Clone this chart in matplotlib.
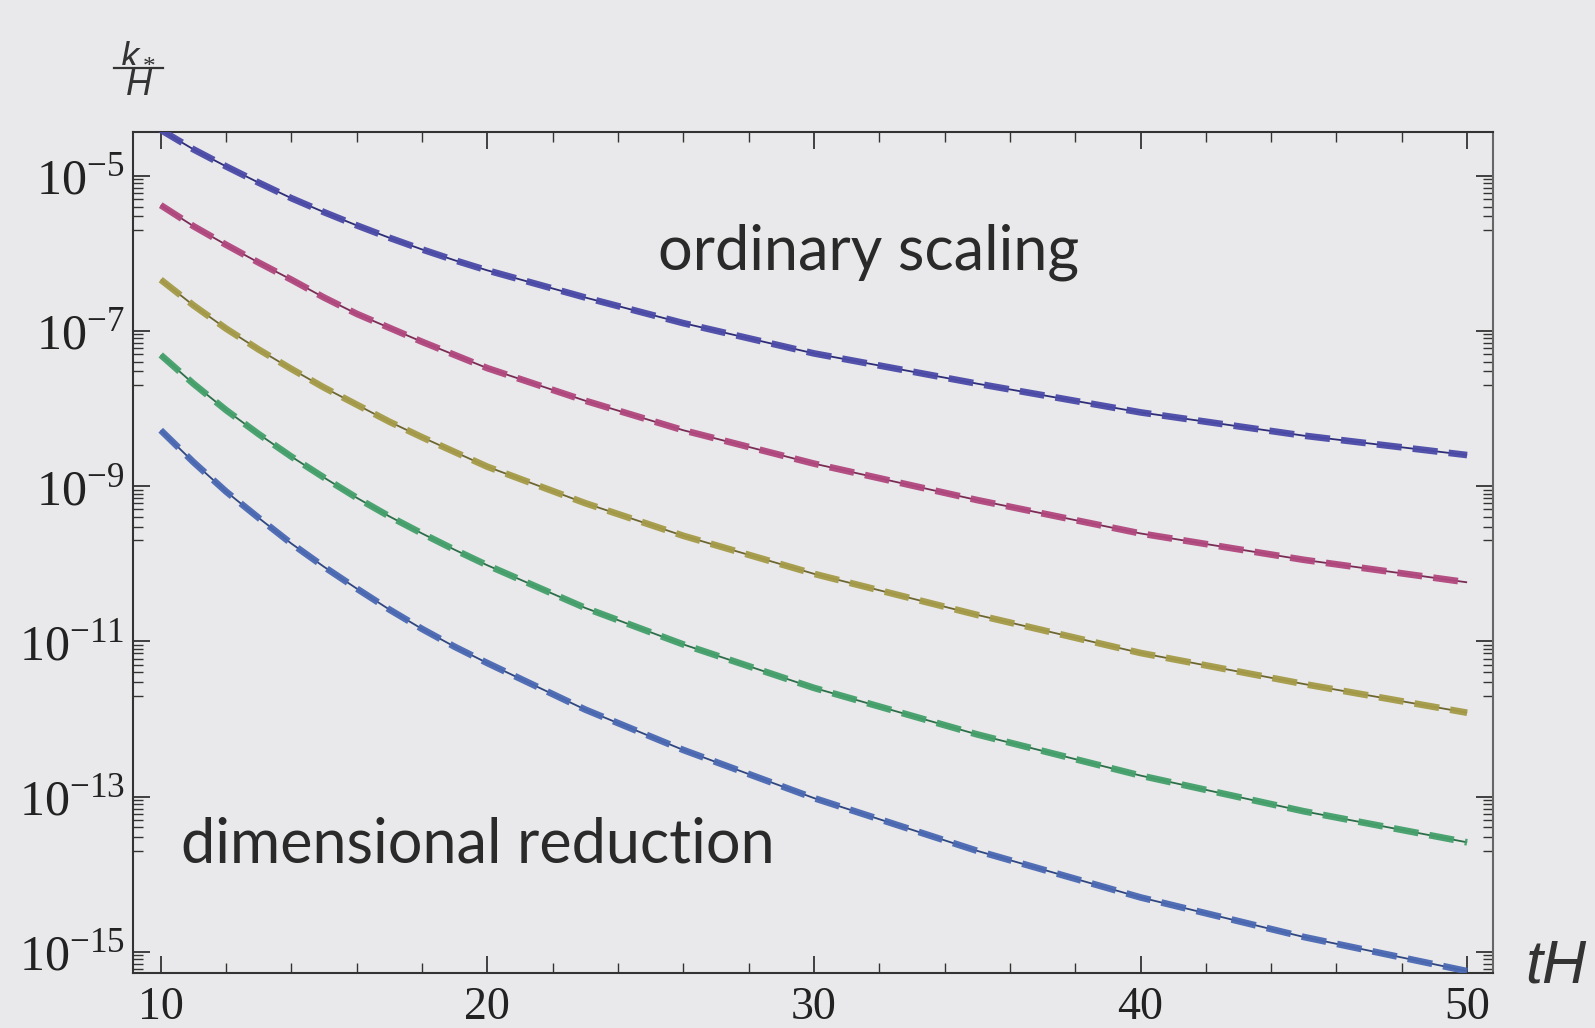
import numpy as np
import matplotlib
matplotlib.use("Agg")
import matplotlib.pyplot as plt
from matplotlib.lines import Line2D
from matplotlib.ticker import FixedLocator, FixedFormatter, NullFormatter

# ── Data (log10 of k*/H) ──────────────────────────────────────────────────────
tH = [10, 11, 12, 13, 14, 15, 16, 17, 18, 19, 20, 23, 26, 30, 35, 40, 45, 50]

log_k1 = [-4.41, -4.66, -4.88, -5.09, -5.29, -5.47, -5.64, -5.80, -5.95, -6.09, -6.22,
          -6.57, -6.90, -7.29, -7.68, -8.05, -8.35, -8.60]
log_k2 = [-5.38, -5.65, -5.89, -6.12, -6.34, -6.57, -6.78, -6.96, -7.14, -7.31, -7.48,
          -7.90, -8.28, -8.71, -9.18, -9.61, -9.95, -10.24]
log_k3 = [-6.34, -6.67, -6.97, -7.24, -7.49, -7.73, -7.95, -8.17, -8.37, -8.56, -8.75,
          -9.22, -9.64, -10.13, -10.66, -11.15, -11.55, -11.92]
log_k4 = [-7.31, -7.68, -8.02, -8.33, -8.62, -8.89, -9.15, -9.39, -9.61, -9.82, -10.02,
          -10.57, -11.04, -11.60, -12.20, -12.73, -13.19, -13.59]
log_k5 = [-8.28, -8.69, -9.07, -9.41, -9.74, -10.04, -10.32, -10.59, -10.84, -11.07, -11.28,
          -11.88, -12.40, -13.02, -13.70, -14.30, -14.81, -15.25]

curves = [log_k1, log_k2, log_k3, log_k4, log_k5]
COLORES = ["#4b4aa8", "#b0477e", "#a49a48", "#44a06a", "#4a68b2"]
OSCUROS = ["#2e2d78", "#7a2c55", "#6e6630", "#2c6e48", "#2f4680"]

y_exps = [-5, -7, -9, -11, -13, -15]
x_major = [10, 20, 30, 40, 50]
x_minor = [12, 14, 16, 18, 22, 24, 26, 28, 32, 34, 36, 38, 42, 44, 46, 48]

BG = "#e9e9eb"
FRAME = "#333333"
W, H = 1595, 1028

plt.rcParams["mathtext.fontset"] = "custom"
plt.rcParams["mathtext.rm"] = "Liberation Serif"
plt.rcParams["mathtext.it"] = "Liberation Sans:italic"
plt.rcParams["lines.scale_dashes"] = False

fig = plt.figure(figsize=(15.95, 10.28), dpi=100, facecolor=BG)
ax = fig.add_axes([0.0834, 0.0538, 0.8526, 0.8178])
ax.set_facecolor(BG)

for vals, c, d in zip(curves, COLORES, OSCUROS):
    y = 10.0 ** np.array(vals)
    ax.plot(tH, y, color=d, linewidth=1.3, solid_capstyle="butt", zorder=2)
    ax.plot(tH, y, color=c, linewidth=4.8, dashes=(18, 8),
            dash_capstyle="butt", alpha=0.95, zorder=3)

ax.set_yscale("log")
ax.set_xlim(9.152, 50.79)
ax.set_ylim(10 ** -15.27, 10 ** -4.437)

# ── Ticks ─────────────────────────────────────────────────────────────────────
ax.xaxis.set_major_locator(FixedLocator(x_major))
ax.xaxis.set_minor_locator(FixedLocator(x_minor))
ax.xaxis.set_major_formatter(FixedFormatter([str(v) for v in x_major]))
ax.xaxis.set_minor_formatter(NullFormatter())

y_major = [10.0 ** e for e in y_exps]
y_minor = [k * 10.0 ** (e - 1) for e in y_exps for k in range(2, 10)]
ax.yaxis.set_major_locator(FixedLocator(y_major))
ax.yaxis.set_minor_locator(FixedLocator(y_minor))
ax.yaxis.set_major_formatter(FixedFormatter([rf"$10^{{{e}}}$" for e in y_exps]))
ax.yaxis.set_minor_formatter(NullFormatter())

ax.tick_params(axis="both", which="both", direction="in", top=True, right=True,
               color=FRAME, labelcolor="#222222")
ax.tick_params(axis="both", which="major", length=12, width=1.3)
ax.tick_params(axis="both", which="minor", length=7, width=1.0)
ax.tick_params(axis="x", which="major", pad=10, labelsize=33)
ax.tick_params(axis="y", which="major", pad=6, labelsize=36)
for lbl in ax.get_xticklabels():
    lbl.set_family("Liberation Serif")

for s in ax.spines.values():
    s.set_color(FRAME)
    s.set_linewidth(1.5)
ax.spines["right"].set_color("#666666")

# ── Labels ────────────────────────────────────────────────────────────────────
# k*/H written as a stacked fraction
fig.text(138 / W, 1 - 62 / H, r"$k_*$", fontsize=26,
         ha="center", va="baseline", color="#333333")
fig.add_artist(Line2D([114 / W, 163 / W], [1 - 68 / H, 1 - 68 / H],
                      color="#333333", linewidth=1.6))
fig.text(139 / W, 1 - 95 / H, r"$H$", fontsize=26,
         ha="center", va="baseline", color="#333333")

fig.text(1557 / W, 1 - 966 / H, r"$tH$", fontsize=44,
         ha="center", va="center", color="#333333")

fig.text(869 / W, 1 - 252 / H, "ordinary scaling", family="Lato",
         fontsize=44, ha="center", va="center", color="#2a2a2a")
fig.text(478 / W, 1 - 845 / H, "dimensional reduction", family="Lato",
         fontsize=44, ha="center", va="center", color="#2a2a2a")

plt.savefig("out.png", dpi=100, facecolor=BG)
